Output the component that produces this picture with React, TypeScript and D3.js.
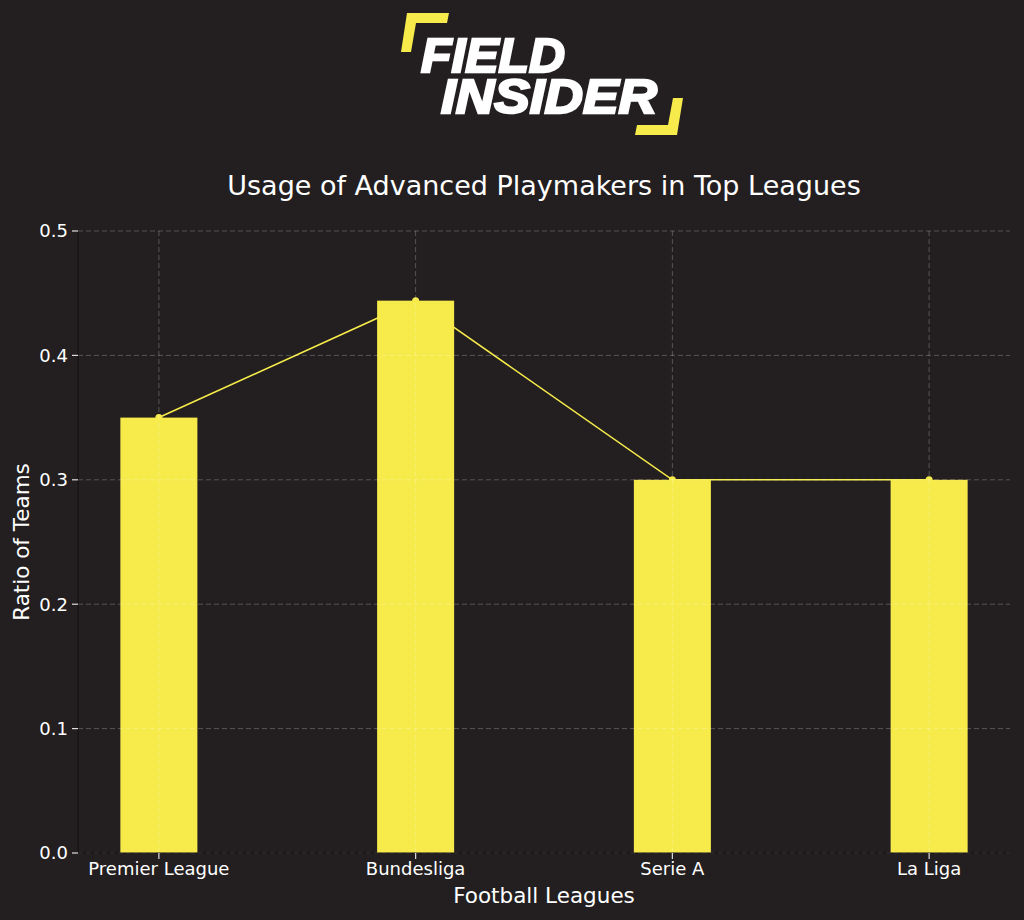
import React from "react";
import * as d3 from "d3";

const leagues = ["Premier League", "Bundesliga", "Serie A", "La Liga"];
const ratios = [0.35, 0.444, 0.3, 0.3];
const yTicks = [0, 0.1, 0.2, 0.3, 0.4, 0.5];

const W = 1024;
const H = 920;
const BG = "#231f20";
const YELLOW = "#f6eb4a";
const FONT = "DejaVu Sans, sans-serif";

export default function App() {
  const left = 78;
  const right = 1010;
  const top = 231;
  const bottom = 853;
  const barW = 0.3;

  const x = d3.scaleLinear().domain([-0.315, 3.315]).range([left, right]);
  const y = d3.scaleLinear().domain([0, 0.5]).range([bottom, top]);

  const line = d3
    .line<number>()
    .x((_, i) => x(i))
    .y((d) => y(d));

  return (
    <div style={{ position: "fixed", left: 0, top: 0, width: W, height: H, background: BG }}>
      <svg width={W} height={H} style={{ display: "block" }}>
        <rect x={0} y={0} width={W} height={H} fill={BG} />

        {/* Logo */}
        <g>
          <polygon points="407,13 449,13 447,23 416,23 411,52 401,52" fill={YELLOW} />
          <polygon points="673,98 683,98 677,135 635,135 637,125 668,125" fill={YELLOW} />
          <text
            fontFamily="Liberation Sans, Arial, sans-serif"
            fontWeight="bold"
            fontStyle="italic"
            fontSize={48}
            fill="#ffffff"
            stroke="#ffffff"
            strokeWidth={2.4}
          >
            <tspan x={421} y={72} textLength={144} lengthAdjust="spacingAndGlyphs">
              FIELD
            </tspan>
            <tspan x={441} y={113} textLength={216} lengthAdjust="spacingAndGlyphs">
              INSIDER
            </tspan>
          </text>
        </g>

        {/* Title */}
        <text
          x={544}
          y={195}
          textAnchor="middle"
          fontFamily={FONT}
          fontSize={27}
          fill="#ffffff"
        >
          Usage of Advanced Playmakers in Top Leagues
        </text>

        {/* Line with markers (behind bars) */}
        <path d={line(ratios) ?? ""} fill="none" stroke={YELLOW} strokeWidth={1.6} />
        {ratios.map((v, i) => (
          <circle key={`m${i}`} cx={x(i)} cy={y(v)} r={3.5} fill={YELLOW} />
        ))}

        {/* Bars */}
        {ratios.map((v, i) => (
          <rect
            key={`b${i}`}
            x={x(i - barW / 2)}
            y={y(v)}
            width={x(barW) - x(0)}
            height={y(0) - y(v)}
            fill={YELLOW}
          />
        ))}

        {/* Grid */}
        {yTicks.map((t) => (
          <line
            key={`gy${t}`}
            x1={left}
            x2={right}
            y1={y(t)}
            y2={y(t)}
            stroke="rgba(255,255,255,0.24)"
            strokeWidth={1}
            strokeDasharray="5,3"
          />
        ))}
        {leagues.map((_, i) => (
          <line
            key={`gx${i}`}
            x1={x(i)}
            x2={x(i)}
            y1={top}
            y2={bottom}
            stroke="rgba(255,255,255,0.24)"
            strokeWidth={1}
            strokeDasharray="5,3"
          />
        ))}

        {/* Spines */}
        <line x1={left} x2={left} y1={top} y2={bottom} stroke="#161314" strokeWidth={1.2} />
        <line x1={left} x2={right} y1={bottom} y2={bottom} stroke="#161314" strokeWidth={1.2} />

        {/* Y ticks */}
        {yTicks.map((t) => (
          <g key={`yt${t}`}>
            <line x1={left - 6} x2={left} y1={y(t)} y2={y(t)} stroke="#dddddd" strokeWidth={1.2} />
            <text
              x={left - 10}
              y={y(t)}
              dy="0.35em"
              textAnchor="end"
              fontFamily={FONT}
              fontSize={18}
              fill="#ffffff"
            >
              {d3.format(".1f")(t)}
            </text>
          </g>
        ))}

        {/* X ticks */}
        {leagues.map((name, i) => (
          <g key={`xt${i}`}>
            <line x1={x(i)} x2={x(i)} y1={bottom} y2={bottom + 6} stroke="#dddddd" strokeWidth={1.2} />
            <text
              x={x(i)}
              y={bottom + 22}
              textAnchor="middle"
              fontFamily={FONT}
              fontSize={18}
              fill="#ffffff"
            >
              {name}
            </text>
          </g>
        ))}

        {/* Axis labels */}
        <text
          x={(left + right) / 2}
          y={903}
          textAnchor="middle"
          fontFamily={FONT}
          fontSize={21.5}
          fill="#ffffff"
        >
          Football Leagues
        </text>
        <text
          transform={`translate(29,${(top + bottom) / 2}) rotate(-90)`}
          textAnchor="middle"
          fontFamily={FONT}
          fontSize={21.5}
          fill="#ffffff"
        >
          Ratio of Teams
        </text>
      </svg>
    </div>
  );
}
